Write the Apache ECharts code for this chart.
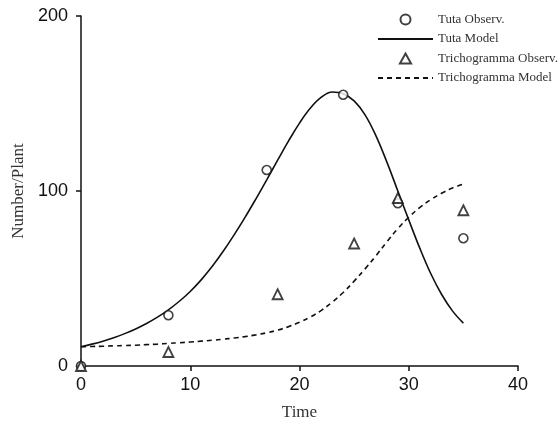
<!DOCTYPE html>
<html><head><meta charset="utf-8">
<script src="https://cdn.jsdelivr.net/npm/echarts@6/dist/echarts.min.js"></script>
<style>html,body{margin:0;padding:0;background:#fff}#c{width:558px;height:422px}</style>
</head><body><div id="c"></div>
<script>
const xTicks = [0, 10, 20, 30, 40];
const yTicks = [0, 100, 200];
const tutaObsT = [0, 8, 17, 24, 29, 35];
const tutaObsV = [0, 29, 112, 155, 93, 73];
const trichObsT = [0, 8, 18, 25, 29, 35];
const trichObsV = [0, 8, 41, 70, 96, 89];
const modelT = [0,1,2,3,4,5,6,7,8,9,10,11,12,13,14,15,16,17,18,19,20,21,22,23,24,25,26,27,28,29,30,31,32,33,34,35];
const tutaModelV = [11,12.5,14.2,16.2,18.5,21.2,24.3,27.9,32.1,37,42.6,49.2,56.8,65.4,74.8,84.8,95.4,106.4,117.6,128.6,138.8,147.4,153.6,156.6,155.6,151.5,143.5,131.5,116.5,100,83.5,67.5,53,41,31.5,24.5];
const trichModelV = [11,11.15,11.3,11.5,11.7,11.9,12.2,12.5,12.9,13.3,13.7,14.2,14.7,15.3,16,16.8,17.8,19,20.5,22.5,25,28,31.8,36.5,42,48.5,55.5,63,71,78.5,85,90.5,95,98.7,101.7,104];

const zip = (a, b) => a.map((v, i) => [v, b[i]]);
const serif = '"Liberation Serif","DejaVu Serif",serif';
const sans = '"Liberation Sans",Arial,sans-serif';
const chart = echarts.init(document.getElementById('c'), null, {renderer: 'canvas'});
chart.setOption({
  animation: false,
  backgroundColor: '#fff',
  grid: {left: 81, right: 40, top: 16, bottom: 56, containLabel: false, outerBoundsMode: 'none'},
  legend: {
    orient: 'vertical', left: 372, top: 8, itemWidth: 55, itemHeight: 10, itemGap: 6.5,
    textStyle: {fontFamily: serif, fontSize: 13, color: '#333'},
    data: [
      {name: 'Tuta Observ.', icon: 'circle'},
      {name: 'Tuta Model', itemStyle: {opacity: 0}},
      {name: 'Trichogramma Observ.', icon: 'path://M5,0 L10,9 L0,9 Z'},
      {name: 'Trichogramma Model', itemStyle: {opacity: 0}}
    ]
  },
  xAxis: {
    type: 'value', min: xTicks[0], max: xTicks[xTicks.length - 1], interval: 10,
    name: 'Time', nameLocation: 'middle', nameGap: 38,
    nameTextStyle: {fontFamily: serif, fontSize: 17, color: '#333'},
    axisLine: {show: true, lineStyle: {color: '#111', width: 1.5}},
    axisTick: {show: true, length: 5, lineStyle: {color: '#111', width: 1.5}},
    axisLabel: {fontFamily: sans, fontSize: 18, color: '#111', margin: 10},
    splitLine: {show: false}
  },
  yAxis: {
    type: 'value', min: yTicks[0], max: yTicks[yTicks.length - 1], interval: 100,
    name: 'Number/Plant', nameLocation: 'middle', nameGap: 53,
    nameTextStyle: {fontFamily: serif, fontSize: 17, color: '#333'},
    axisLine: {show: true, lineStyle: {color: '#111', width: 1.5}},
    axisTick: {show: true, length: 5, lineStyle: {color: '#111', width: 1.5}},
    axisLabel: {fontFamily: sans, fontSize: 18, color: '#111', margin: 13},
    splitLine: {show: false}
  },
  series: [
    {name: 'Tuta Observ.', type: 'scatter', data: zip(tutaObsT, tutaObsV), symbol: 'circle', symbolSize: 9,
     itemStyle: {color: '#fff', borderColor: '#111', borderWidth: 1.6}, z: 5},
    {name: 'Tuta Model', type: 'line', data: zip(modelT, tutaModelV), smooth: 0.4, symbol: 'none', showSymbol: false,
     lineStyle: {color: '#111', width: 1.6}, itemStyle: {color: '#111'}},
    {name: 'Trichogramma Observ.', type: 'scatter', data: zip(trichObsT, trichObsV), symbol: 'triangle', symbolSize: 10,
     itemStyle: {color: '#fff', borderColor: '#111', borderWidth: 1.8}, z: 5},
    {name: 'Trichogramma Model', type: 'line', data: zip(modelT, trichModelV), smooth: 0.4, symbol: 'none', showSymbol: false,
     lineStyle: {color: '#111', width: 1.6, type: [5, 4]}, itemStyle: {color: '#111'}}
  ]
});
</script></body></html>
